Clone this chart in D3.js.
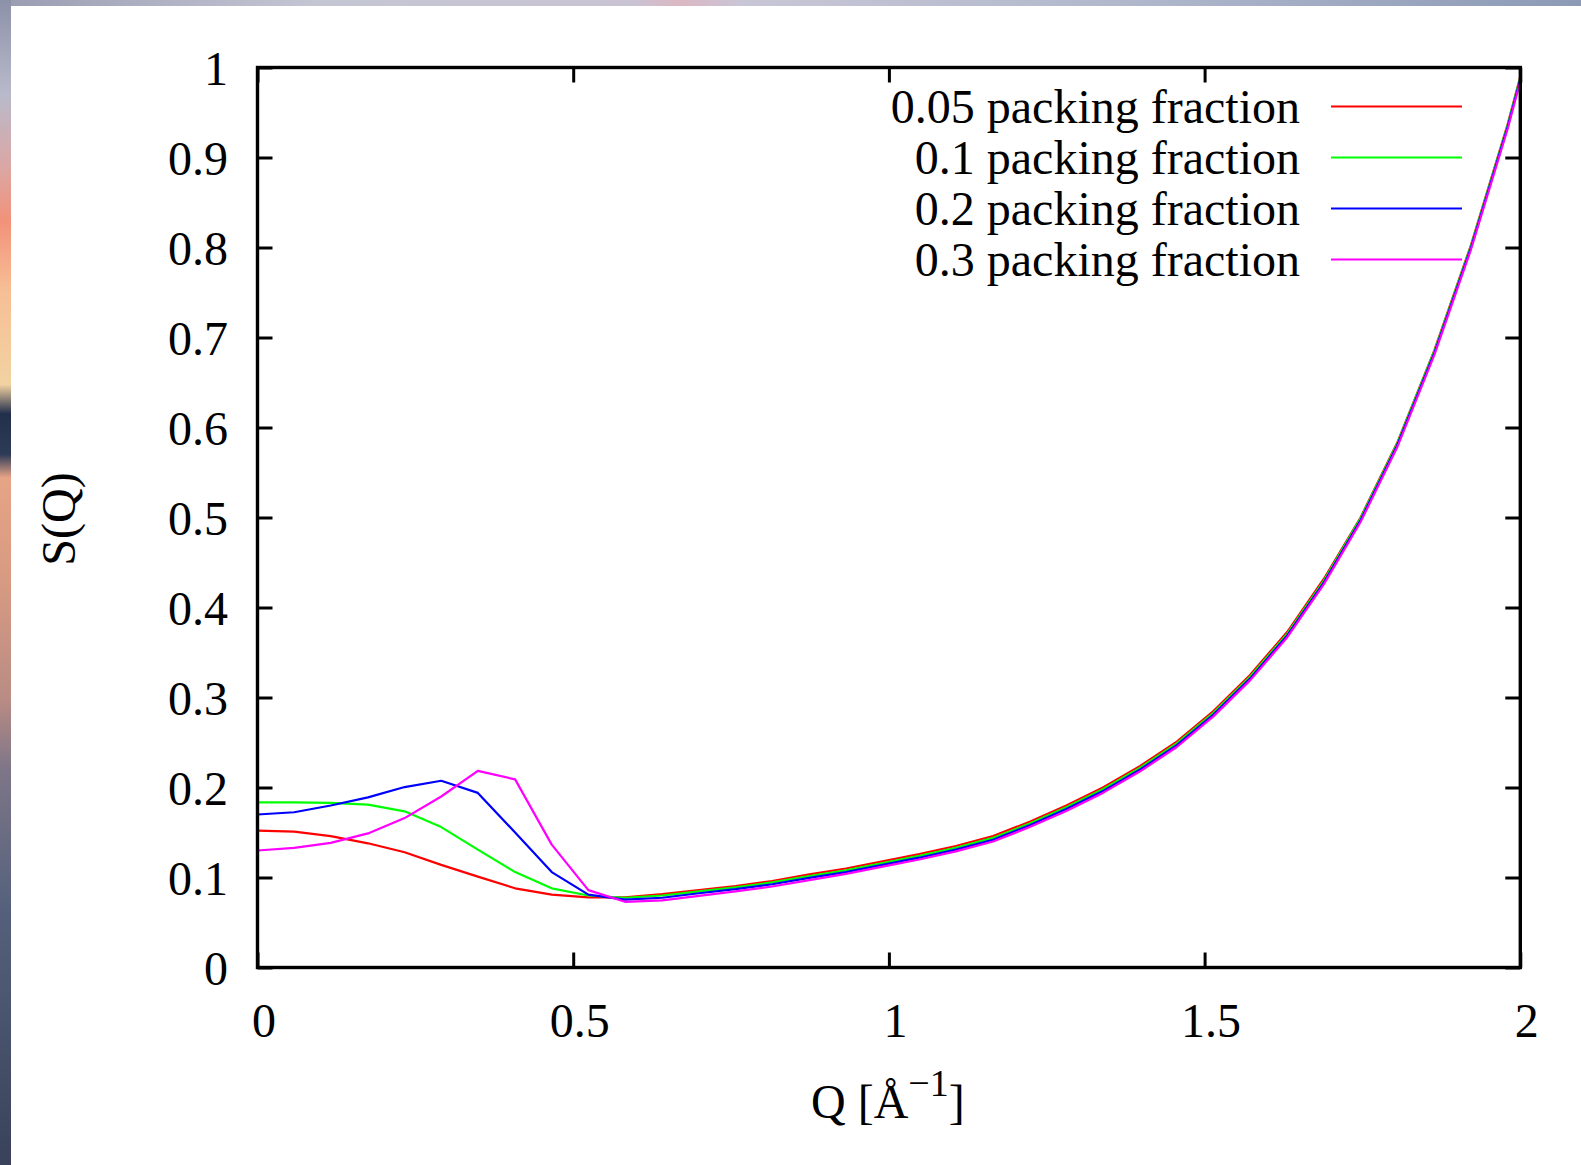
<!DOCTYPE html>
<html>
<head>
<meta charset="utf-8">
<script src="https://cdn.jsdelivr.net/npm/d3@7"></script>
<style>
  html, body { margin: 0; padding: 0; background: #fff; }
  svg { display: block; }
  text { font-family: "Liberation Serif", "DejaVu Serif", serif; fill: #000; }
</style>
</head>
<body>
<div id="chart"></div>
<script>
// Q grid of the data (1/Angstrom)
const qValues = [0, 0.058, 0.116, 0.175, 0.233, 0.291, 0.349, 0.408, 0.466, 0.524,
  0.582, 0.641, 0.699, 0.757, 0.815, 0.874, 0.932, 0.990, 1.048, 1.106,
  1.165, 1.223, 1.281, 1.339, 1.398, 1.456, 1.514, 1.572, 1.631, 1.689,
  1.747, 1.805, 1.864, 1.922, 1.980, 2.038];

// S(Q) for each packing fraction
const sq005 = [0.152, 0.151, 0.146, 0.138, 0.128, 0.114, 0.101, 0.088, 0.081, 0.078,
  0.078, 0.0815, 0.086, 0.0905, 0.096, 0.1035, 0.110, 0.118, 0.126, 0.135,
  0.146, 0.162, 0.180, 0.200, 0.224, 0.251, 0.285, 0.325, 0.373, 0.432,
  0.500, 0.583, 0.686, 0.803, 0.937, 1.09];
const sq01 = [0.1835, 0.1835, 0.183, 0.181, 0.1735, 0.156, 0.131, 0.106, 0.088, 0.080,
  0.0775, 0.080, 0.0845, 0.089, 0.0945, 0.1015, 0.108, 0.116, 0.124, 0.133,
  0.144, 0.160, 0.178, 0.198, 0.222, 0.249, 0.283, 0.323, 0.371, 0.430,
  0.499, 0.582, 0.685, 0.802, 0.936, 1.089];
const sq02 = [0.170, 0.1725, 0.180, 0.189, 0.2005, 0.2075, 0.194, 0.150, 0.106, 0.081,
  0.0755, 0.0775, 0.0825, 0.087, 0.0925, 0.0995, 0.106, 0.114, 0.122, 0.131,
  0.142, 0.158, 0.176, 0.196, 0.220, 0.247, 0.281, 0.321, 0.369, 0.428,
  0.497, 0.580, 0.683, 0.800, 0.934, 1.087];
const sq03 = [0.130, 0.133, 0.1385, 0.149, 0.166, 0.190, 0.2185, 0.209, 0.1365, 0.086,
  0.073, 0.0745, 0.0795, 0.0845, 0.090, 0.097, 0.104, 0.112, 0.120, 0.129,
  0.140, 0.156, 0.174, 0.194, 0.218, 0.245, 0.279, 0.319, 0.367, 0.426,
  0.495, 0.578, 0.681, 0.798, 0.932, 1.085];

const seriesNames = ['0.05 packing fraction', '0.1 packing fraction',
  '0.2 packing fraction', '0.3 packing fraction'];
const seriesValues = [sq005, sq01, sq02, sq03];
const seriesColors = ['#ff0000', '#00ff00', '#0000ff', '#ff00ff'];

const xTicks = [0, 0.5, 1, 1.5, 2];
const xTickLabels = ['0', '0.5', '1', '1.5', '2'];
const yTicks = [0, 0.1, 0.2, 0.3, 0.4, 0.5, 0.6, 0.7, 0.8, 0.9, 1];
const yTickLabels = ['0', '0.1', '0.2', '0.3', '0.4', '0.5', '0.6', '0.7', '0.8', '0.9', '1'];

const W = 1581, H = 1165;
const plot = { left: 257.5, right: 1520.3, top: 67.5, bottom: 967.5 };

const svg = d3.select('#chart').append('svg')
  .attr('width', W)
  .attr('height', H);

const defs = svg.append('defs');

// photo border behind the white sheet
const leftGrad = defs.append('linearGradient')
  .attr('id', 'leftGrad').attr('x1', 0).attr('y1', 0).attr('x2', 0).attr('y2', 1);
[[0, '#8d91a8'], [0.08, '#b8bacb'], [0.14, '#d9a8a6'], [0.19, '#f2927a'], [0.25, '#f7bf95'],
 [0.33, '#f2d2a2'], [0.355, '#23304c'], [0.39, '#2e3b57'], [0.41, '#e6a486'], [0.5, '#d79a82'],
 [0.6, '#b98c84'], [0.66, '#7e7688'], [0.78, '#55617c'], [1, '#39425a']]
  .forEach(([o, c]) => leftGrad.append('stop').attr('offset', o).attr('stop-color', c));

const topGrad = defs.append('linearGradient')
  .attr('id', 'topGrad').attr('x1', 0).attr('y1', 0).attr('x2', 1).attr('y2', 0);
[[0, '#9a9db2'], [0.2, '#c4c6d4'], [0.4, '#c9c3d3'], [0.43, '#dcb7c3'], [0.47, '#c8c6d6'],
 [0.7, '#b2b9cd'], [1, '#8c9ab6']]
  .forEach(([o, c]) => topGrad.append('stop').attr('offset', o).attr('stop-color', c));

svg.append('rect').attr('x', 0).attr('y', 0).attr('width', W).attr('height', 6)
  .attr('fill', 'url(#topGrad)');
svg.append('rect').attr('x', 0).attr('y', 0).attr('width', 11).attr('height', H)
  .attr('fill', 'url(#leftGrad)');
svg.append('rect').attr('x', 11).attr('y', 6).attr('width', W - 11).attr('height', H - 6)
  .attr('fill', '#ffffff');

// scales
const x = d3.scaleLinear().domain([0, 2]).range([plot.left, plot.right]);
const y = d3.scaleLinear().domain([0, 1]).range([plot.bottom, plot.top]);

defs.append('clipPath').attr('id', 'plotClip')
  .append('rect')
  .attr('x', plot.left).attr('y', plot.top)
  .attr('width', plot.right - plot.left).attr('height', plot.bottom - plot.top);

// data lines
const line = d3.line()
  .x(d => x(d[0]))
  .y(d => y(d[1]));

const lines = svg.append('g').attr('clip-path', 'url(#plotClip)');
seriesValues.forEach((vals, i) => {
  lines.append('path')
    .datum(qValues.map((q, j) => [q, vals[j]]))
    .attr('d', line)
    .attr('fill', 'none')
    .attr('stroke', seriesColors[i])
    .attr('stroke-width', 2.2)
    .attr('stroke-linejoin', 'round');
});

// axes, gnuplot style: inward ticks on all four sides
const tickLen = 15;
const fontSize = 48;

const xAxis = svg.append('g')
  .attr('transform', `translate(0,${plot.bottom})`)
  .call(d3.axisBottom(x).tickValues(xTicks).tickSize(-tickLen)
    .tickFormat((d, i) => xTickLabels[i]));
xAxis.selectAll('text')
  .attr('y', 69).attr('dy', null).attr('dx', 6)
  .style('font-size', fontSize + 'px');

const yAxis = svg.append('g')
  .attr('transform', `translate(${plot.left},0)`)
  .call(d3.axisLeft(y).tickValues(yTicks).tickSize(-tickLen)
    .tickFormat((d, i) => yTickLabels[i]));
yAxis.selectAll('text')
  .attr('x', -29.5).attr('dy', '0.36em')
  .style('font-size', fontSize + 'px');

svg.append('g')
  .attr('transform', `translate(0,${plot.top})`)
  .call(d3.axisTop(x).tickValues(xTicks).tickSize(-tickLen).tickFormat(''));
svg.append('g')
  .attr('transform', `translate(${plot.right},0)`)
  .call(d3.axisRight(y).tickValues(yTicks).tickSize(-tickLen).tickFormat(''));

svg.selectAll('.domain').remove();
svg.selectAll('.tick line').attr('stroke', '#000').attr('stroke-width', 3);
svg.selectAll('.tick text').attr('fill', '#000').style('font-family', '"Liberation Serif", serif');

// frame
svg.append('rect')
  .attr('x', plot.left).attr('y', plot.top)
  .attr('width', plot.right - plot.left).attr('height', plot.bottom - plot.top)
  .attr('fill', 'none')
  .attr('stroke', '#000')
  .attr('stroke-width', 3.4);

// axis titles
const xTitle = svg.append('text')
  .attr('x', x(1) - 1)
  .attr('y', 1118)
  .attr('text-anchor', 'middle')
  .style('font-size', fontSize + 'px');
xTitle.append('tspan').text('Q [Å');
xTitle.append('tspan').attr('dy', -22).style('font-size', '38px').text('\u22121');
xTitle.append('tspan').attr('dy', 22).text(']');

svg.append('text')
  .attr('transform', `translate(75,${519}) rotate(-90)`)
  .attr('text-anchor', 'middle')
  .style('font-size', fontSize + 'px')
  .text('S(Q)');

// legend
const legend = svg.append('g');
seriesNames.forEach((name, i) => {
  const ly = 106.5 + i * 51;
  legend.append('text')
    .attr('x', 1300)
    .attr('y', ly + 16.5)
    .attr('text-anchor', 'end')
    .style('font-size', fontSize + 'px')
    .text(name);
  legend.append('line')
    .attr('x1', 1331).attr('x2', 1462)
    .attr('y1', ly).attr('y2', ly)
    .attr('stroke', seriesColors[i])
    .attr('stroke-width', 2.2);
});
</script>
</body>
</html>
